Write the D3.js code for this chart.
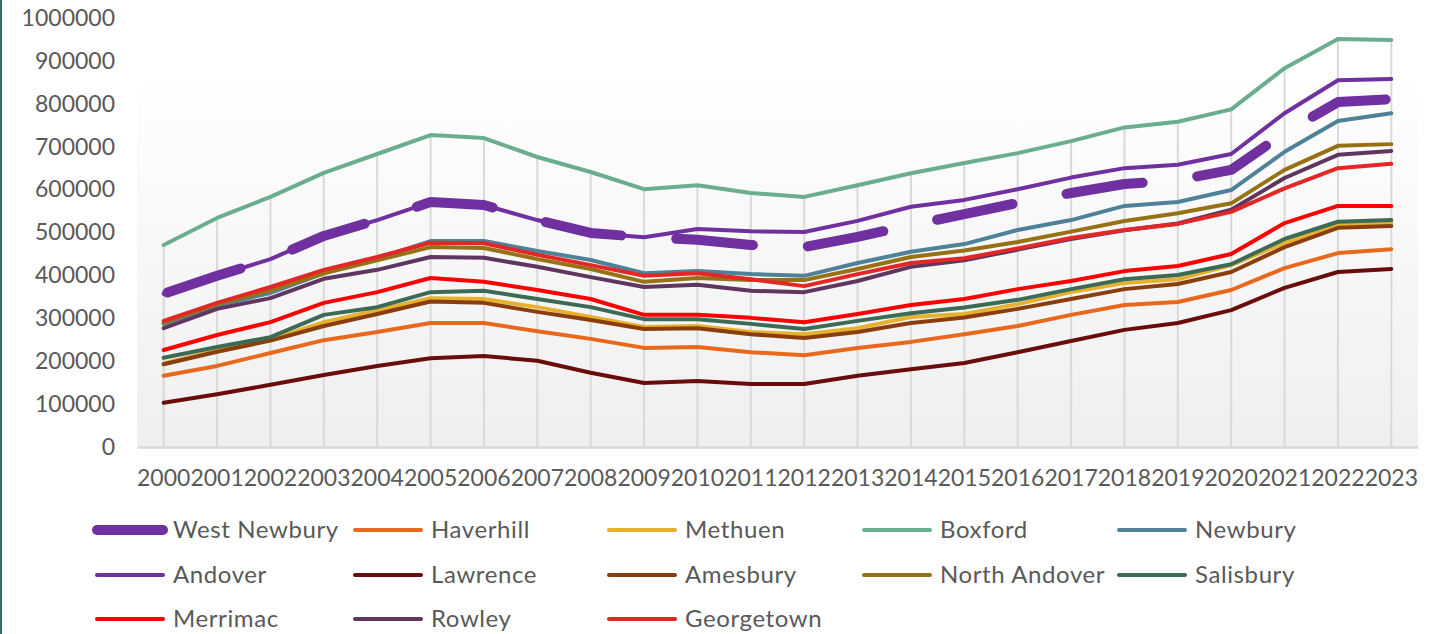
<!DOCTYPE html>
<html>
<head>
<meta charset="utf-8">
<script src="https://cdn.jsdelivr.net/npm/d3@7"></script>
<style>
  html, body { margin: 0; padding: 0; background: #ffffff; }
  svg { display: block; }
  text { font-family: Lato, "Open Sans", sans-serif; fill: #595959; }
</style>
</head>
<body>
<svg id="chart" width="1431" height="634"></svg>
<script>
// Median sale price by town, 2000–2023
const years = ["2000","2001","2002","2003","2004","2005","2006","2007","2008","2009","2010","2011",
               "2012","2013","2014","2015","2016","2017","2018","2019","2020","2021","2022","2023"];
const yTickValues = [0, 100000, 200000, 300000, 400000, 500000, 600000, 700000, 800000, 900000, 1000000];

const westNewbury  = [357000,399000,438000,492000,529000,571000,564000,529000,499000,489000,483000,471000,466000,490000,517000,543000,569000,592000,613000,622000,646000,732000,804000,811000];
const haverhill    = [166000,189000,219000,249000,268000,289000,289000,270000,252000,231000,233000,221000,214000,231000,245000,263000,282000,308000,331000,338000,366000,417000,452000,461000];
const methuen      = [195000,225000,250000,291000,319000,347000,345000,326000,303000,280000,282000,268000,263000,277000,303000,310000,333000,361000,382000,391000,424000,476000,520000,522000];
const boxford      = [471000,534000,583000,639000,683000,727000,720000,676000,641000,601000,610000,592000,583000,610000,638000,662000,685000,713000,745000,758000,787000,883000,951000,949000];
const newbury      = [287000,330000,359000,405000,440000,480000,480000,457000,436000,405000,410000,403000,399000,429000,455000,473000,506000,529000,562000,571000,599000,688000,760000,778000];
const andover      = [357000,399000,438000,492000,529000,571000,564000,529000,499000,489000,508000,503000,501000,527000,560000,576000,601000,628000,650000,658000,683000,778000,855000,858000];
const lawrence     = [103000,123000,145000,168000,189000,207000,212000,201000,173000,149000,154000,147000,147000,166000,181000,196000,221000,247000,273000,289000,319000,371000,408000,415000];
const amesbury     = [193000,222000,248000,282000,310000,339000,336000,315000,296000,275000,277000,263000,254000,268000,289000,302000,322000,345000,368000,380000,408000,466000,511000,515000];
const northAndover = [290000,333000,365000,405000,435000,466000,464000,438000,415000,385000,394000,389000,389000,415000,443000,458000,478000,502000,527000,545000,568000,646000,702000,706000];
const salisbury    = [208000,233000,256000,308000,326000,361000,364000,345000,326000,298000,298000,287000,275000,294000,312000,325000,343000,368000,391000,401000,426000,485000,525000,529000];
const merrimac     = [226000,261000,291000,336000,361000,394000,385000,366000,345000,308000,308000,301000,291000,310000,331000,345000,368000,387000,410000,422000,450000,522000,562000,562000];
const rowley       = [277000,322000,347000,392000,413000,443000,441000,420000,396000,373000,378000,364000,361000,387000,420000,435000,460000,485000,505000,521000,553000,627000,681000,690000];
const georgetown   = [294000,336000,373000,413000,443000,476000,475000,448000,424000,399000,405000,391000,375000,403000,429000,440000,463000,487000,506000,520000,548000,603000,650000,660000];

const seriesNames  = ["West Newbury","Haverhill","Methuen","Boxford","Newbury","Andover","Lawrence",
                      "Amesbury","North Andover","Salisbury","Merrimac","Rowley","Georgetown"];
const seriesValues = [westNewbury, haverhill, methuen, boxford, newbury, andover, lawrence,
                      amesbury, northAndover, salisbury, merrimac, rowley, georgetown];
const seriesColors = ["#7030a0","#e8691c","#e6b22e","#6aae8f","#4f8198","#7030a0","#6b0c0c",
                      "#8b3e0d","#977215","#3c6b55","#ff0000","#5e3660","#e32626"];

const series = seriesNames.map((name, i) => ({
  name,
  color: seriesColors[i],
  highlight: i === 0,
  values: seriesValues[i].map((v, j) => ({ year: years[j], value: v }))
}));

const svg = d3.select("#chart");
const plot = { left: 137, right: 1418, top: 18, bottom: 447 };

const x = d3.scaleBand().domain(years).range([plot.left, plot.right]).padding(0);
const y = d3.scaleLinear().domain([0, 1000000]).range([plot.bottom, plot.top]);
const cx = d => x(d) + x.bandwidth() / 2;

// frame accent on the left edge
svg.append("rect").attr("x", 0).attr("y", 0).attr("width", 2).attr("height", 634).attr("fill", "#2f6d6b");

// plot area background: soft vertical gradient
const defs = svg.append("defs");
const grad = defs.append("linearGradient").attr("id", "plotBg")
  .attr("x1", 0).attr("y1", 0).attr("x2", 0).attr("y2", 1);
grad.append("stop").attr("offset", "0").attr("stop-color", "#ffffff");
grad.append("stop").attr("offset", "0.12").attr("stop-color", "#ffffff");
grad.append("stop").attr("offset", "1").attr("stop-color", "#efefef");
svg.append("rect")
  .attr("x", plot.left).attr("y", y(1000000))
  .attr("width", plot.right - plot.left).attr("height", y(0) - y(1000000))
  .attr("fill", "url(#plotBg)");

// drop lines from the highest value at each year down to the axis
svg.append("g").selectAll("line").data(years).join("line")
  .attr("x1", d => cx(d)).attr("x2", d => cx(d))
  .attr("y1", y(0))
  .attr("y2", (d, j) => y(d3.max(seriesValues, s => s[j])))
  .attr("stroke", "#d9d9d9").attr("stroke-width", 2);

// category axis
const xAxis = svg.append("g")
  .attr("transform", `translate(0,${plot.bottom})`)
  .call(d3.axisBottom(x).tickSize(0).tickPadding(23));
xAxis.select(".domain").attr("stroke", "#d9d9d9").attr("stroke-width", 2.5);
xAxis.selectAll("text").attr("font-size", 23).attr("fill", "#5b5b5b")
  .style("font-family", "Lato, sans-serif");

// value axis
const yAxis = svg.append("g")
  .attr("transform", `translate(${plot.left},0)`)
  .call(d3.axisLeft(y).tickValues(yTickValues).tickFormat(d3.format("d")).tickSize(0).tickPadding(22));
yAxis.select(".domain").remove();
yAxis.selectAll("text").attr("font-size", 23).attr("fill", "#5b5b5b")
  .style("font-family", "Lato, sans-serif");

// series lines (West Newbury drawn as a heavy long-dash line)
const line = d3.line().x(d => cx(d.year)).y(d => y(d.value));
const dash = "77 55";
svg.append("g").selectAll("path").data(series).join("path")
  .attr("d", d => line(d.values))
  .attr("fill", "none")
  .attr("stroke", d => d.color)
  .attr("stroke-width", d => d.highlight ? 10 : 4)
  .attr("stroke-dasharray", d => d.highlight ? dash : null)
  .attr("stroke-dashoffset", d => d.highlight ? -4 : null)
  .attr("stroke-linecap", "round")
  .attr("stroke-linejoin", "round");

// legend
const legendCols = [93, 351, 605, 860, 1115];
const legendRows = [530, 575, 619];
const legend = svg.append("g").selectAll("g").data(series).join("g")
  .attr("transform", (d, i) => `translate(${legendCols[i % 5]},${legendRows[Math.floor(i / 5)]})`);
legend.append("line")
  .attr("x1", 4).attr("x2", 70).attr("y1", 0).attr("y2", 0)
  .attr("stroke", d => d.color)
  .attr("stroke-width", d => d.highlight ? 10 : 4)
  .attr("stroke-linecap", "round");
legend.append("text")
  .attr("x", 80).attr("y", 0).attr("dy", "0.35em")
  .attr("font-size", 24)
  .attr("letter-spacing", 0.6)
  .attr("fill", "#5b5b5b")
  .text(d => d.name);
</script>
</body>
</html>
